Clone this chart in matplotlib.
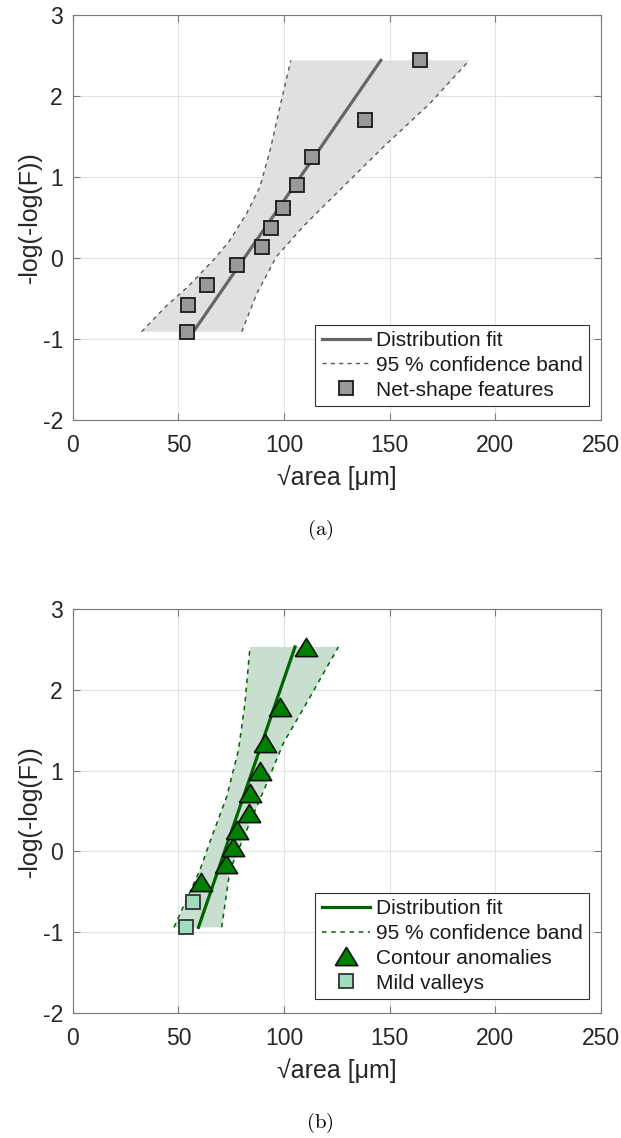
import matplotlib
matplotlib.use('Agg')
import matplotlib.pyplot as plt
import numpy as np

plt.rcParams['font.family'] = ['Liberation Sans', 'DejaVu Sans']
plt.rcParams['axes.unicode_minus'] = False
plt.rcParams['mathtext.fontset'] = 'cm'

# panel (a): net-shape features
net_x = [54.2, 54.7, 63.4, 77.6, 89.4, 93.7, 99.4, 106.0, 113.1, 138.3, 164.5]
net_y = [-0.91, -0.58, -0.33, -0.09, 0.13, 0.37, 0.62, 0.90, 1.25, 1.70, 2.44]
fit_a_x = [57.1, 145.8]
fit_a_y = [-0.91, 2.44]
lo_a_y = [-0.91, -0.60, -0.35, 0.0, 0.22, 0.55, 0.88, 1.33, 1.87, 2.44]
lo_a_x = [32.6, 44.0, 54.7, 67.5, 74.4, 82.3, 88.6, 93.4, 98.1, 103.2]
hi_a_y = [-0.91, -0.44, 0.02, 0.39, 0.80, 1.10, 1.37, 1.91, 2.44]
hi_a_x = [80.0, 87.1, 96.5, 109.1, 124.9, 136.5, 147.0, 169.1, 187.7]

# panel (b): contour anomalies + mild valleys
cont_x = [60.6, 72.6, 75.7, 77.9, 83.3, 84.0, 88.6, 90.9, 98.1, 110.4]
cont_y = [-0.38, -0.16, 0.05, 0.26, 0.48, 0.72, 1.00, 1.34, 1.79, 2.53]
mild_x = [53.6, 56.8]
mild_y = [-0.94, -0.63]
fit_b_x = [59.5, 105.2]
fit_b_y = [-0.94, 2.53]
lo_b_y = [-0.94, -0.23, 0.18, 0.68, 1.25, 1.83, 2.53]
lo_b_x = [47.9, 60.2, 65.8, 72.9, 78.4, 81.5, 83.9]
hi_b_y = [-0.94, -0.23, 0.26, 0.84, 1.34, 1.91, 2.53]
hi_b_x = [70.5, 74.4, 82.3, 91.8, 99.7, 112.3, 125.7]

xticks = [0, 50, 100, 150, 200, 250]
yticks = [-2, -1, 0, 1, 2, 3]

fig = plt.figure(figsize=(6.21, 11.38), dpi=100)
W, H = 621, 1138

def make_ax(top_px, bot_px):
    ax = fig.add_axes([72.7 / W, (H - bot_px) / H, 528.3 / W, (bot_px - top_px) / H])
    ax.set_xlim(0, 250)
    ax.set_ylim(-2, 3)
    ax.set_xticks(xticks)
    ax.set_yticks(yticks)
    ax.grid(True, color='#e3e3e3', lw=0.8)
    ax.set_axisbelow(True)
    ax.tick_params(direction='in', length=5, width=0.8, colors='#7a7a7a',
                   labelcolor='#262626', labelsize=16.5, top=True, right=True)
    ax.tick_params(axis='x', pad=10)
    ax.tick_params(axis='y', pad=7)
    for s in ax.spines.values():
        s.set_color('#7a7a7a')
        s.set_linewidth(0.8)
    ax.set_xlabel('\u221aarea [\u03bcm]', fontsize=18, color='#262626')
    ax.set_ylabel('-log(-log(F))', fontsize=18, color='#262626')
    ax.xaxis.set_label_coords(0.5, -0.112)
    ax.yaxis.set_label_coords(-0.058, 0.5)
    return ax

tri = [(-1, -0.82), (1, -0.82), (0, 0.82), (-1, -0.82)]

# (a)
ax1 = make_ax(15, 420)
ax1.fill(lo_a_x + hi_a_x[::-1], lo_a_y + hi_a_y[::-1], color='#e0e0e0', lw=0, zorder=1)
ax1.plot(fit_a_x, fit_a_y, color='#666666', lw=2.3, label='Distribution fit', zorder=3)
ax1.plot(lo_a_x, lo_a_y, color='#5a5a5a', lw=1.0, ls=(0, (3, 3)), label='95 % confidence band', zorder=3)
ax1.plot(hi_a_x, hi_a_y, color='#5a5a5a', lw=1.0, ls=(0, (3, 3)), zorder=3)
ax1.plot(net_x, net_y, ls='none', marker='s', ms=10.5, mfc='#999999', mec='#1a1a1a', mew=1.3,
         label='Net-shape features', zorder=4)
leg = ax1.legend(loc='lower right', bbox_to_anchor=(0.977, 0.035), borderaxespad=0,
                 fontsize=15, fancybox=False, edgecolor='#333333', framealpha=1,
                 handlelength=2.3, handletextpad=0.3, labelspacing=0.28, borderpad=0.3)
leg.get_frame().set_linewidth(0.8)
for t in leg.get_texts():
    t.set_color('#1a1a1a')
fig.text(320 / W, 1 - 530 / H, r'$\mathrm{(a)}$', ha='center', va='center', fontsize=15)

# (b)
ax2 = make_ax(609, 1013)
ax2.fill(lo_b_x + hi_b_x[::-1], lo_b_y + hi_b_y[::-1], color='#c8dfd0', lw=0, zorder=1)
ax2.plot(fit_b_x, fit_b_y, color='#006400', lw=2.3, label='Distribution fit', zorder=3)
ax2.plot(lo_b_x, lo_b_y, color='#006400', lw=1.1, ls=(0, (3, 3)), label='95 % confidence band', zorder=3)
ax2.plot(hi_b_x, hi_b_y, color='#006400', lw=1.1, ls=(0, (3, 3)), zorder=3)
ax2.plot(cont_x, cont_y, ls='none', marker=tri, ms=16, mfc='#008000', mec='#111111', mew=1.2,
         label='Contour anomalies', zorder=4)
ax2.plot(mild_x, mild_y, ls='none', marker='s', ms=10.5, mfc='#a0dcc0', mec='#333333', mew=1.3,
         label='Mild valleys', zorder=4)
leg2 = ax2.legend(loc='lower right', bbox_to_anchor=(0.977, 0.035), borderaxespad=0,
                  fontsize=15, fancybox=False, edgecolor='#333333', framealpha=1,
                  handlelength=2.3, handletextpad=0.3, labelspacing=0.28, borderpad=0.3)
leg2.get_frame().set_linewidth(0.8)
for t in leg2.get_texts():
    t.set_color('#1a1a1a')
fig.text(320 / W, 1 - 1123 / H, r'$\mathrm{(b)}$', ha='center', va='center', fontsize=15)

fig.savefig('out.png', dpi=100)
